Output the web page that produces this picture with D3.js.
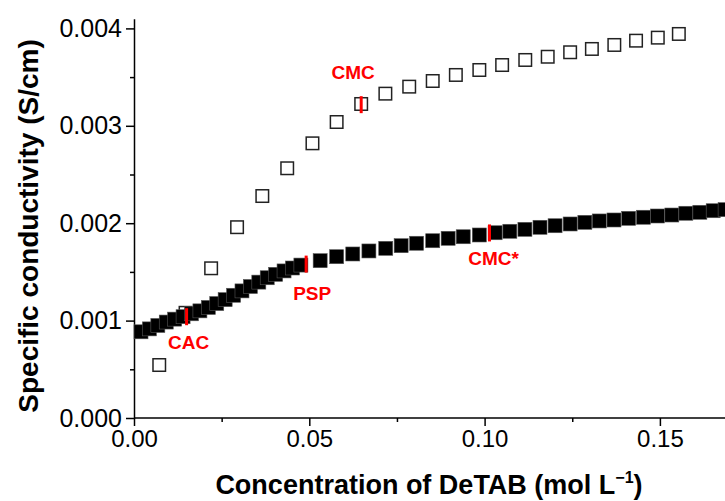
<!DOCTYPE html>
<html>
<head>
<meta charset="utf-8">
<script src="https://cdn.jsdelivr.net/npm/d3@7"></script>
<style>
  html, body { margin: 0; padding: 0; background: #fff; }
  svg { display: block; }
  text { font-family: "Liberation Sans", Arial, sans-serif; }
</style>
</head>
<body>
<svg id="chart" width="725" height="501"></svg>
<script>
// ---- data ----
const openX = [0.0072, 0.0147, 0.0220, 0.0294, 0.0366, 0.0437, 0.0509, 0.0578, 0.0648, 0.0717, 0.0785, 0.0852,
  0.0918, 0.0985, 0.1050, 0.1116, 0.1180, 0.1244, 0.1306, 0.1370, 0.1432, 0.1494, 0.1554];
const openY = [0.000544, 0.00108, 0.001537, 0.001959, 0.002279, 0.002564, 0.002820, 0.003039, 0.003224, 0.003330,
  0.003402, 0.003460, 0.003522, 0.003573, 0.003624, 0.003676, 0.003709, 0.003755, 0.003789, 0.003830, 0.003874,
  0.003905, 0.003943];

const filledX = [0.0020, 0.0044, 0.0068, 0.0092, 0.0116, 0.0140, 0.0164, 0.0188, 0.0212, 0.0236, 0.0260, 0.0284,
  0.0308, 0.0332, 0.0356, 0.0380, 0.0404, 0.0428, 0.0452, 0.0476,
  0.0531, 0.0578, 0.0624, 0.0670, 0.0718, 0.0762, 0.0806, 0.0852, 0.0896, 0.0939, 0.0985, 0.1030, 0.1072,
  0.1115, 0.1158, 0.1201, 0.1244, 0.1286, 0.1327, 0.1369, 0.1411, 0.1453, 0.1493, 0.1534, 0.1574, 0.1614,
  0.1652, 0.1686];
const filledY = [0.000885, 0.000915, 0.000950, 0.000985, 0.001015, 0.001040, 0.001070, 0.001100, 0.001135,
  0.001175, 0.001215, 0.001260, 0.001305, 0.001350, 0.001395, 0.001440, 0.001475, 0.001510, 0.001540, 0.001570,
  0.001615, 0.001656, 0.001684, 0.001715, 0.001742, 0.001769, 0.001794, 0.001820, 0.001845, 0.001861, 0.001879,
  0.001902, 0.001917, 0.001937, 0.001958, 0.001974, 0.001992, 0.002009, 0.002023, 0.002033, 0.002050, 0.002061,
  0.002074, 0.002084, 0.002102, 0.002112, 0.002128, 0.002139];

const markerNames = ["CAC", "PSP", "CMC*", "CMC"];
const markerX = [0.0150, 0.0491, 0.1014, 0.0648];
const markerY = [0.00104, 0.00158, 0.00190, 0.003217];

const xTicks = [0.00, 0.05, 0.10, 0.15];
const xMinorTicks = [0.025, 0.075, 0.125];
const yTicks = [0.000, 0.001, 0.002, 0.003, 0.004];
const yMinorTicks = [0.0005, 0.0015, 0.0025, 0.0035];

const xTitle = "Concentration of DeTAB (mol L";
const yTitle = "Specific conductivity (S/cm)";

// ---- layout ----
const svg = d3.select("#chart");
const X0 = 134, Y0 = 418;
const x = d3.scaleLinear().domain([0, 0.17]).range([X0, X0 + 3506 * 0.17]);
const y = d3.scaleLinear().domain([0, 0.0041]).range([Y0, Y0 - 97.4 * 4.1]);

// label offsets (px) relative to marker
const labelOffset = {
  "CAC": [2, 32.5], "PSP": [6, 36], "CMC*": [4, 32], "CMC": [-8, -25.5]
};

// axes
const gx = svg.append("g").attr("transform", `translate(0,${Y0})`);
gx.call(d3.axisBottom(x).tickValues(xTicks).tickFormat(d3.format(".2f")).tickSize(8).tickSizeOuter(0).tickPadding(4));
gx.append("g").call(d3.axisBottom(x).tickValues(xMinorTicks).tickFormat("").tickSize(4).tickSizeOuter(0))
  .select(".domain").remove();
gx.select(".domain").attr("d", `M${X0},0H725`);

const gy = svg.append("g").attr("transform", `translate(${X0},0)`);
gy.call(d3.axisLeft(y).tickValues(yTicks).tickFormat(d3.format(".3f")).tickSize(8).tickSizeOuter(0).tickPadding(4));
gy.append("g").call(d3.axisLeft(y).tickValues(yMinorTicks).tickFormat("").tickSize(4).tickSizeOuter(0))
  .select(".domain").remove();

svg.selectAll(".domain").attr("stroke", "#000").attr("stroke-width", 1.5);
svg.selectAll(".tick line").attr("stroke", "#000").attr("stroke-width", 1.5);
gx.selectAll(".tick text").attr("fill", "#000").style("font-size", "24px");
gy.selectAll(".tick text").attr("fill", "#000").style("font-size", "25px");

// axis titles
const xt = svg.append("text")
  .attr("x", 429).attr("y", 494)
  .attr("text-anchor", "middle")
  .style("font-size", "27px").style("font-weight", "bold").attr("fill", "#000");
xt.append("tspan").text(xTitle);
xt.append("tspan").text("\u22121").attr("dy", -11).style("font-size", "16px");
xt.append("tspan").text(")").attr("dy", 11);

svg.append("text")
  .attr("transform", `translate(38,226) rotate(-90)`)
  .attr("text-anchor", "middle")
  .style("font-size", "28px").style("font-weight", "bold").attr("fill", "#000")
  .text(yTitle);

// series
const S = 14;
const openData = openX.map((v, i) => ({ x: v, y: openY[i] }));
const filledData = filledX.map((v, i) => ({ x: v, y: filledY[i] }));

svg.append("g").selectAll("rect").data(openData).join("rect")
  .attr("x", d => x(d.x) - (S - 1.5) / 2).attr("y", d => y(d.y) - (S - 1.5) / 2)
  .attr("width", S - 1.5).attr("height", S - 1.5)
  .attr("fill", "none").attr("stroke", "#222").attr("stroke-width", 1.5);

svg.append("g").selectAll("rect").data(filledData).join("rect")
  .attr("x", d => x(d.x) - S / 2).attr("y", d => y(d.y) - S / 2)
  .attr("width", S).attr("height", S)
  .attr("fill", "#000").attr("stroke", "#555").attr("stroke-width", 0.6);

// markers
const markers = markerNames.map((n, i) => ({ name: n, x: markerX[i], y: markerY[i] }));
svg.append("g").selectAll("line").data(markers).join("line")
  .attr("x1", d => x(d.x)).attr("x2", d => x(d.x))
  .attr("y1", d => y(d.y) - 8.5).attr("y2", d => y(d.y) + 8.5)
  .attr("stroke", "#ff0000").attr("stroke-width", 3);

svg.append("g").selectAll("text").data(markers).join("text")
  .attr("x", d => x(d.x) + labelOffset[d.name][0])
  .attr("y", d => y(d.y) + labelOffset[d.name][1])
  .attr("text-anchor", "middle")
  .style("font-size", "19px").style("font-weight", "bold").attr("fill", "#ff0000")
  .text(d => d.name);
</script>
</body>
</html>
